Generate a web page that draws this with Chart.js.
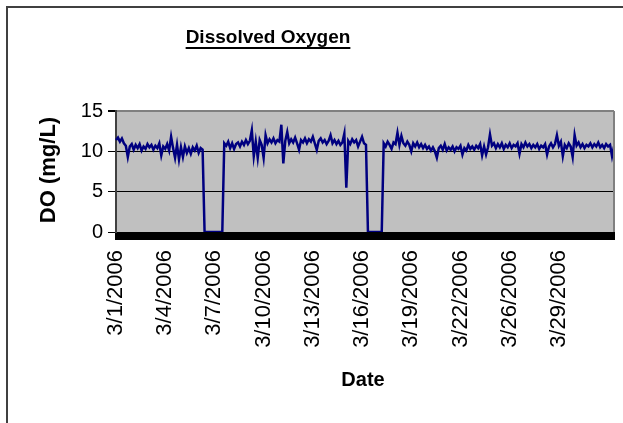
<!DOCTYPE html>
<html><head><meta charset="utf-8">
<script src="https://cdn.jsdelivr.net/npm/chart.js@4"></script>
<style>html,body{margin:0;padding:0;background:#fff}#wrap{width:623px;height:423px;position:relative}</style>
</head><body><div id="wrap"><canvas id="c"></canvas></div>
<script>
const tickDates = ['3/1/2006','3/4/2006','3/7/2006','3/10/2006','3/13/2006','3/16/2006','3/19/2006','3/22/2006','3/26/2006','3/29/2006'];
const yTicks = [0, 5, 10, 15];
const pointsPerTick = 25;
const doValues = [
 11.4,11.7,11.2,11.6,11.0,10.7,9.3,10.6,10.9,10.2,10.8,10.4,10.9,10.1,10.6,10.3,10.9,10.5,10.8,10.2,
 10.7,10.4,11.0,9.5,10.6,10.3,10.9,10.1,11.8,10.4,9.2,10.8,9.0,10.5,9.3,10.6,9.8,10.4,9.7,10.5,
 10.1,10.7,9.8,10.4,10.2,
 0,0,0,0,0,0,0,0,0,0,
 11.0,10.7,11.2,10.4,11.0,10.3,10.9,11.1,10.6,11.2,10.8,11.4,10.9,11.3,12.6,9.4,11.2,9.2,11.4,10.8,
 9.2,12.0,11.0,11.5,11.1,11.6,11.0,11.4,11.2,13.3,8.5,11.3,12.4,11.0,11.5,11.1,11.7,11.0,10.2,11.4,
 11.1,11.6,11.0,11.5,11.2,11.8,11.0,10.2,11.3,11.6,11.1,11.4,10.9,11.3,12.0,11.0,11.4,10.9,11.3,10.8,
 11.1,12.2,5.5,11.3,10.9,11.5,11.1,11.4,10.6,11.2,11.8,11.0,10.8,
 0,0,0,0,0,0,0,0,
 11.0,10.6,11.2,10.8,10.3,11.1,10.9,12.3,10.8,11.9,11.0,10.7,11.2,10.8,10.0,11.0,10.6,11.1,10.5,10.9,
 10.4,10.8,10.3,10.6,10.1,10.5,10.0,9.2,10.4,10.7,10.2,10.9,10.1,10.5,10.2,10.6,10.0,10.5,10.3,10.7,
 9.6,10.4,10.1,10.8,10.3,10.6,10.2,10.7,10.4,10.9,9.5,10.6,9.6,10.5,12.1,10.7,11.0,10.4,10.9,10.5,
 11.0,10.3,10.8,10.5,11.0,10.4,10.8,10.6,11.0,9.7,10.9,10.5,11.1,10.6,10.9,10.4,10.8,10.5,10.9,10.3,
 10.7,10.5,10.9,9.6,10.6,11.0,10.5,10.9,12.0,10.7,11.2,9.4,10.8,10.4,11.0,10.6,9.3,12.0,10.7,11.1,
 10.5,10.9,10.4,10.8,10.6,11.0,10.5,10.9,10.6,11.1,10.5,10.8,10.4,10.9,10.6,10.8,9.4,10.6
];
const categories = doValues.map((v, i) => (i % pointsPerTick === 0 && tickDates[i / pointsPerTick]) ? tickDates[i / pointsPerTick] : '');

const FONT = '"Liberation Sans", Arial, sans-serif';
Chart.defaults.font.family = FONT;
Chart.defaults.color = '#000';

const decor = {
  id: 'decor',
  beforeDraw(chart) {
    const c = chart.ctx, a = chart.chartArea;
    c.save();
    c.fillStyle = '#fff';
    c.fillRect(0, 0, chart.width, chart.height);
    c.strokeStyle = '#404040';
    c.lineWidth = 2;
    c.beginPath();
    c.moveTo(7, chart.height + 5);
    c.lineTo(7, 7);
    c.lineTo(chart.width + 5, 7);
    c.stroke();
    c.fillStyle = '#C0C0C0';
    c.fillRect(a.left, a.top, a.right - a.left, a.bottom - a.top);
    c.restore();
  },
  afterDraw(chart) {
    const c = chart.ctx, a = chart.chartArea;
    c.save();
    c.strokeStyle = '#808080';
    c.lineWidth = 2;
    c.beginPath();
    c.moveTo(a.right, a.top);
    c.lineTo(a.right, a.bottom);
    c.stroke();
    c.fillStyle = '#000';
    c.font = 'bold 19px ' + FONT;
    c.textAlign = 'center';
    c.textBaseline = 'alphabetic';
    const title = 'Dissolved Oxygen';
    c.fillText(title, 268, 43);
    const w = c.measureText(title).width;
    c.fillRect(268 - w / 2, 47, w, 2);
    c.font = 'bold 20px ' + FONT;
    c.fillText('Date', 363, 386);
    c.font = 'bold 22px ' + FONT;
    c.translate(55, 170);
    c.rotate(-Math.PI / 2);
    c.fillText('DO (mg/L)', 0, 0);
    c.restore();
  }
};

new Chart(document.getElementById('c'), {
  type: 'line',
  data: {
    labels: categories,
    datasets: [{
      data: doValues,
      borderColor: '#000080',
      borderWidth: 2.5,
      pointRadius: 0,
      tension: 0,
      fill: false
    }]
  },
  options: {
    responsive: true,
    maintainAspectRatio: false,
    animation: false,
    layout: { padding: { left: 0, top: 111, right: 9, bottom: 0 } },
    plugins: { legend: { display: false }, tooltip: { enabled: false } },
    scales: {
      x: {
        type: 'category',
        offset: false,
        afterFit(s) { s.height = 191; s.paddingLeft = 0; s.paddingRight = 0; },
        grid: { offset: false, drawOnChartArea: false, drawTicks: true, tickLength: 8, color: '#000', lineWidth: 2 },
        border: { display: true, color: '#000', width: 1 },
        ticks: { autoSkip: false, maxRotation: 90, minRotation: 90, padding: 10, font: { size: 22 }, color: '#000' }
      },
      y: {
        min: 0, max: 15,
        afterFit(s) { s.width = 116; s.paddingTop = 0; s.paddingBottom = 0; },
        afterBuildTicks(s) { s.ticks = yTicks.map(v => ({ value: v })); },
        grid: {
          drawOnChartArea: true, drawTicks: true, tickLength: 8,
          color: ctx => (ctx.tick && ctx.tick.value === 15) ? '#808080' : '#000',
          tickColor: '#000',
          lineWidth: ctx => (ctx.tick && ctx.tick.value === 15) ? 2 : 1
        },
        border: { display: true, color: '#404040', width: 2 },
        ticks: { padding: 5, font: { size: 20 }, color: '#000' }
      }
    }
  },
  plugins: [decor]
});
</script>
</body></html>
